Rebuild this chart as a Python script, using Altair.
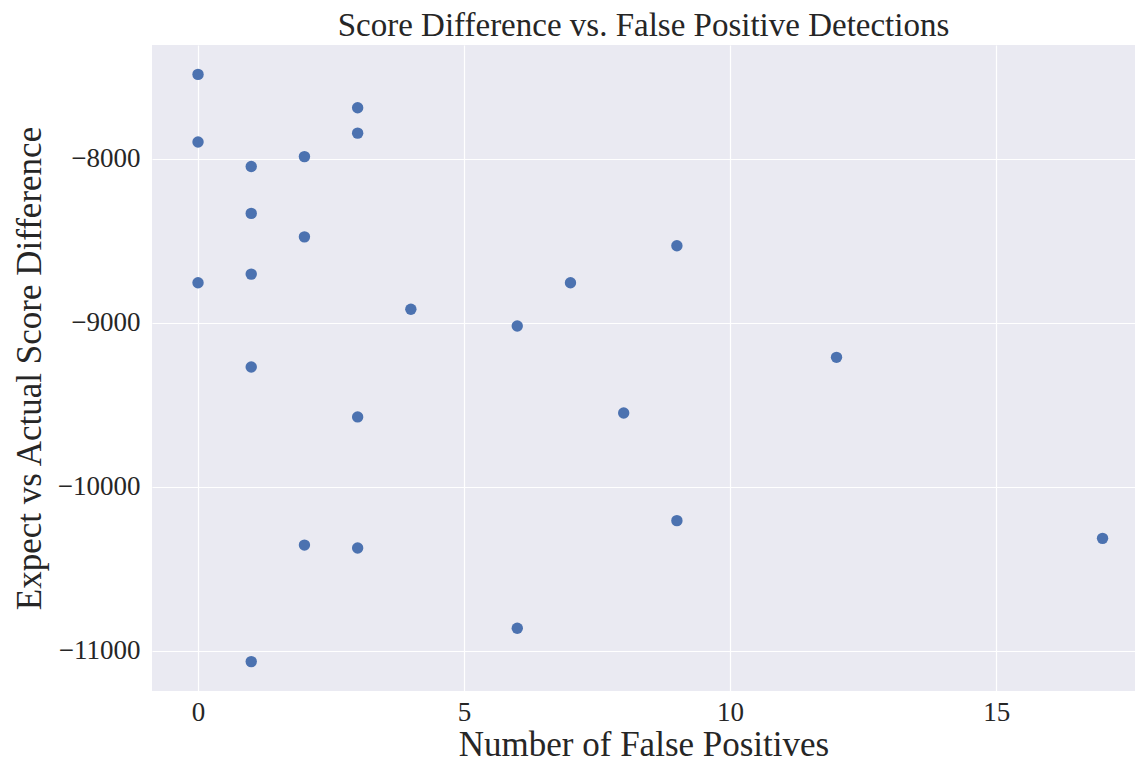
import altair as alt
import pandas as pd

false_positives = [0, 0, 0, 1, 1, 1, 1, 1, 2, 2, 2, 3, 3, 3, 3, 4, 6, 6, 7, 8, 9, 9, 12, 17]
score_diff = [-7487, -7899, -8757, -8048, -8334, -8704, -9270, -11065, -7988, -8477, -10355,
              -7690, -7845, -9574, -10373, -8918, -9020, -10862, -8757, -9550, -8531, -10206,
              -9211, -10314]

df = pd.DataFrame({"fp": false_positives, "diff": score_diff})

font = "Liberation Serif"

chart = alt.Chart(df).mark_circle(size=130, color="#4C72B0", opacity=1).encode(
    x=alt.X("fp:Q", title="Number of False Positives",
            scale=alt.Scale(domain=[-0.865, 17.61], nice=False, zero=False),
            axis=alt.Axis(values=[0, 5, 10, 15], format="d")),
    y=alt.Y("diff:Q", title="Expect vs Actual Score Difference",
            scale=alt.Scale(domain=[-11244, -7308], nice=False, zero=False),
            axis=alt.Axis(values=[-11000, -10000, -9000, -8000], format="d")),
).properties(
    width=983, height=646,
    title=alt.TitleParams("Score Difference vs. False Positive Detections",
                          font=font, fontSize=33, fontWeight="normal", color="#262626",
                          anchor="middle", offset=2),
    autosize=alt.AutoSizeParams(type="none"),
    padding={"left": 144, "top": 37, "right": 0, "bottom": 75},
).configure_view(
    fill="#EAEAF2", stroke=None
).configure_axis(
    grid=True, gridColor="white", gridWidth=1.2, domain=False, ticks=False,
    labelFont=font, labelFontSize=27, labelColor="#262626", labelPadding=12,
    titleFont=font, titleFontSize=35, titleFontWeight="normal", titleColor="#262626",
).configure_axisX(titlePadding=2, labelPadding=8).configure_axisY(titlePadding=10)

chart.save("out.html", embed_options={"renderer": "svg", "actions": False})
